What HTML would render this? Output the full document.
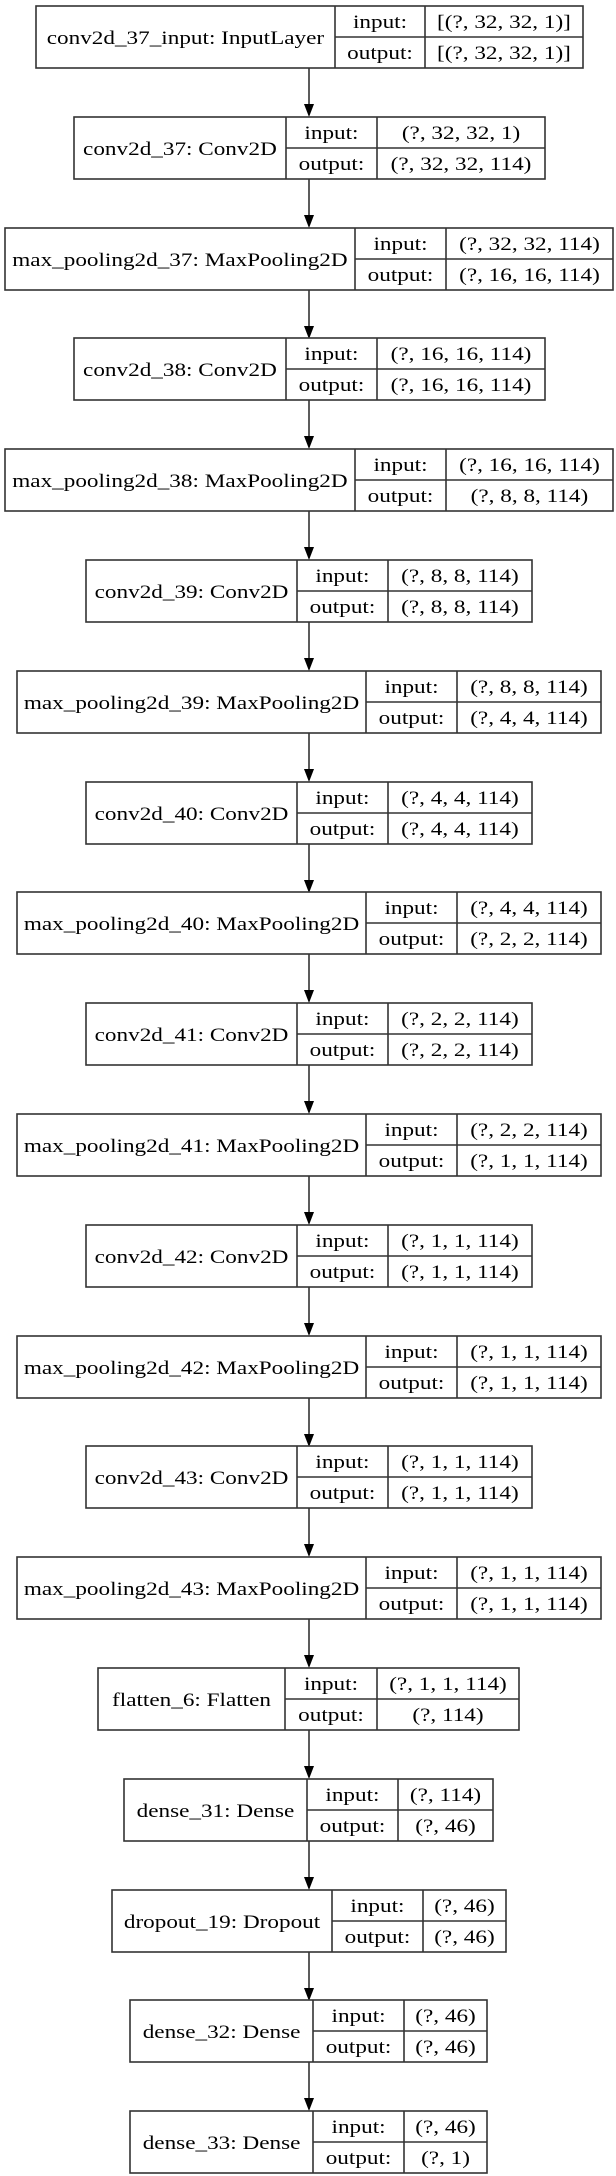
<!DOCTYPE html>
<html><head><meta charset="utf-8"><style>
html,body{margin:0;padding:0;background:#fff;}
svg{display:block;}
text{font-family:"Liberation Serif",serif;font-size:19px;fill:#000;}
.b{fill:#fff;stroke:#333;stroke-width:1.6;}
.l{stroke:#333;stroke-width:1.6;}
</style></head><body>
<svg width="616" height="2176" viewBox="0 0 616 2176" xmlns="http://www.w3.org/2000/svg">
<defs>
<g id="arr"><line class="l" x1="309" y1="0" x2="309" y2="36"/><polygon points="304,36 314,36 309,49" fill="#000"/></g>
</defs>
<!-- arrows: from box bottom (t+62) to next top -->
<use href="#arr" y="68"/><use href="#arr" y="179"/><use href="#arr" y="290"/><use href="#arr" y="400"/>
<use href="#arr" y="511"/><use href="#arr" y="622"/><use href="#arr" y="733"/><use href="#arr" y="844"/>
<use href="#arr" y="954"/><use href="#arr" y="1065"/><use href="#arr" y="1176"/><use href="#arr" y="1287"/>
<use href="#arr" y="1398"/><use href="#arr" y="1508"/><use href="#arr" y="1619"/><use href="#arr" y="1730"/>
<use href="#arr" y="1841"/><use href="#arr" y="1952"/><use href="#arr" y="2062"/>

<g transform="translate(0,6)"><rect class="b" x="36" y="0" width="547" height="62"/><line class="l" x1="335" y1="0" x2="335" y2="62"/><line class="l" x1="425" y1="0" x2="425" y2="62"/><line class="l" x1="335" y1="31" x2="583" y2="31"/>
<g transform="scale(1.22,1)" text-anchor="middle"><text x="152" y="38">conv2d_37_input: InputLayer</text><text x="311.5" y="22">input:</text><text x="311.5" y="53">output:</text><text x="413.1" y="22">[(?, 32, 32, 1)]</text><text x="413.1" y="53">[(?, 32, 32, 1)]</text></g></g>

<g transform="translate(0,117)"><rect class="b" x="74" y="0" width="471" height="62"/><line class="l" x1="286" y1="0" x2="286" y2="62"/><line class="l" x1="377" y1="0" x2="377" y2="62"/><line class="l" x1="286" y1="31" x2="545" y2="31"/>
<g transform="scale(1.22,1)" text-anchor="middle"><text x="147.5" y="38">conv2d_37: Conv2D</text><text x="271.7" y="22">input:</text><text x="271.7" y="53">output:</text><text x="377.9" y="22">(?, 32, 32, 1)</text><text x="377.9" y="53">(?, 32, 32, 114)</text></g></g>

<g transform="translate(0,228)"><rect class="b" x="5" y="0" width="608" height="62"/><line class="l" x1="355" y1="0" x2="355" y2="62"/><line class="l" x1="446" y1="0" x2="446" y2="62"/><line class="l" x1="355" y1="31" x2="613" y2="31"/>
<g transform="scale(1.22,1)" text-anchor="middle"><text x="147.5" y="38">max_pooling2d_37: MaxPooling2D</text><text x="328.3" y="22">input:</text><text x="328.3" y="53">output:</text><text x="434" y="22">(?, 32, 32, 114)</text><text x="434" y="53">(?, 16, 16, 114)</text></g></g>

<g transform="translate(0,338)"><rect class="b" x="74" y="0" width="471" height="62"/><line class="l" x1="286" y1="0" x2="286" y2="62"/><line class="l" x1="377" y1="0" x2="377" y2="62"/><line class="l" x1="286" y1="31" x2="545" y2="31"/>
<g transform="scale(1.22,1)" text-anchor="middle"><text x="147.5" y="38">conv2d_38: Conv2D</text><text x="271.7" y="22">input:</text><text x="271.7" y="53">output:</text><text x="377.9" y="22">(?, 16, 16, 114)</text><text x="377.9" y="53">(?, 16, 16, 114)</text></g></g>

<g transform="translate(0,449)"><rect class="b" x="5" y="0" width="608" height="62"/><line class="l" x1="355" y1="0" x2="355" y2="62"/><line class="l" x1="446" y1="0" x2="446" y2="62"/><line class="l" x1="355" y1="31" x2="613" y2="31"/>
<g transform="scale(1.22,1)" text-anchor="middle"><text x="147.5" y="38">max_pooling2d_38: MaxPooling2D</text><text x="328.3" y="22">input:</text><text x="328.3" y="53">output:</text><text x="434" y="22">(?, 16, 16, 114)</text><text x="434" y="53">(?, 8, 8, 114)</text></g></g>

<g transform="translate(0,560)"><rect class="b" x="86" y="0" width="446" height="62"/><line class="l" x1="297" y1="0" x2="297" y2="62"/><line class="l" x1="388" y1="0" x2="388" y2="62"/><line class="l" x1="297" y1="31" x2="532" y2="31"/>
<g transform="scale(1.22,1)" text-anchor="middle"><text x="157" y="38">conv2d_39: Conv2D</text><text x="280.7" y="22">input:</text><text x="280.7" y="53">output:</text><text x="377" y="22">(?, 8, 8, 114)</text><text x="377" y="53">(?, 8, 8, 114)</text></g></g>

<g transform="translate(0,671)"><rect class="b" x="17" y="0" width="584" height="62"/><line class="l" x1="366" y1="0" x2="366" y2="62"/><line class="l" x1="457" y1="0" x2="457" y2="62"/><line class="l" x1="366" y1="31" x2="601" y2="31"/>
<g transform="scale(1.22,1)" text-anchor="middle"><text x="157" y="38">max_pooling2d_39: MaxPooling2D</text><text x="337.3" y="22">input:</text><text x="337.3" y="53">output:</text><text x="433.6" y="22">(?, 8, 8, 114)</text><text x="433.6" y="53">(?, 4, 4, 114)</text></g></g>

<g transform="translate(0,782)"><rect class="b" x="86" y="0" width="446" height="62"/><line class="l" x1="297" y1="0" x2="297" y2="62"/><line class="l" x1="388" y1="0" x2="388" y2="62"/><line class="l" x1="297" y1="31" x2="532" y2="31"/>
<g transform="scale(1.22,1)" text-anchor="middle"><text x="157" y="38">conv2d_40: Conv2D</text><text x="280.7" y="22">input:</text><text x="280.7" y="53">output:</text><text x="377" y="22">(?, 4, 4, 114)</text><text x="377" y="53">(?, 4, 4, 114)</text></g></g>

<g transform="translate(0,892)"><rect class="b" x="17" y="0" width="584" height="62"/><line class="l" x1="366" y1="0" x2="366" y2="62"/><line class="l" x1="457" y1="0" x2="457" y2="62"/><line class="l" x1="366" y1="31" x2="601" y2="31"/>
<g transform="scale(1.22,1)" text-anchor="middle"><text x="157" y="38">max_pooling2d_40: MaxPooling2D</text><text x="337.3" y="22">input:</text><text x="337.3" y="53">output:</text><text x="433.6" y="22">(?, 4, 4, 114)</text><text x="433.6" y="53">(?, 2, 2, 114)</text></g></g>

<g transform="translate(0,1003)"><rect class="b" x="86" y="0" width="446" height="62"/><line class="l" x1="297" y1="0" x2="297" y2="62"/><line class="l" x1="388" y1="0" x2="388" y2="62"/><line class="l" x1="297" y1="31" x2="532" y2="31"/>
<g transform="scale(1.22,1)" text-anchor="middle"><text x="157" y="38">conv2d_41: Conv2D</text><text x="280.7" y="22">input:</text><text x="280.7" y="53">output:</text><text x="377" y="22">(?, 2, 2, 114)</text><text x="377" y="53">(?, 2, 2, 114)</text></g></g>

<g transform="translate(0,1114)"><rect class="b" x="17" y="0" width="584" height="62"/><line class="l" x1="366" y1="0" x2="366" y2="62"/><line class="l" x1="457" y1="0" x2="457" y2="62"/><line class="l" x1="366" y1="31" x2="601" y2="31"/>
<g transform="scale(1.22,1)" text-anchor="middle"><text x="157" y="38">max_pooling2d_41: MaxPooling2D</text><text x="337.3" y="22">input:</text><text x="337.3" y="53">output:</text><text x="433.6" y="22">(?, 2, 2, 114)</text><text x="433.6" y="53">(?, 1, 1, 114)</text></g></g>

<g transform="translate(0,1225)"><rect class="b" x="86" y="0" width="446" height="62"/><line class="l" x1="297" y1="0" x2="297" y2="62"/><line class="l" x1="388" y1="0" x2="388" y2="62"/><line class="l" x1="297" y1="31" x2="532" y2="31"/>
<g transform="scale(1.22,1)" text-anchor="middle"><text x="157" y="38">conv2d_42: Conv2D</text><text x="280.7" y="22">input:</text><text x="280.7" y="53">output:</text><text x="377" y="22">(?, 1, 1, 114)</text><text x="377" y="53">(?, 1, 1, 114)</text></g></g>

<g transform="translate(0,1336)"><rect class="b" x="17" y="0" width="584" height="62"/><line class="l" x1="366" y1="0" x2="366" y2="62"/><line class="l" x1="457" y1="0" x2="457" y2="62"/><line class="l" x1="366" y1="31" x2="601" y2="31"/>
<g transform="scale(1.22,1)" text-anchor="middle"><text x="157" y="38">max_pooling2d_42: MaxPooling2D</text><text x="337.3" y="22">input:</text><text x="337.3" y="53">output:</text><text x="433.6" y="22">(?, 1, 1, 114)</text><text x="433.6" y="53">(?, 1, 1, 114)</text></g></g>

<g transform="translate(0,1446)"><rect class="b" x="86" y="0" width="446" height="62"/><line class="l" x1="297" y1="0" x2="297" y2="62"/><line class="l" x1="388" y1="0" x2="388" y2="62"/><line class="l" x1="297" y1="31" x2="532" y2="31"/>
<g transform="scale(1.22,1)" text-anchor="middle"><text x="157" y="38">conv2d_43: Conv2D</text><text x="280.7" y="22">input:</text><text x="280.7" y="53">output:</text><text x="377" y="22">(?, 1, 1, 114)</text><text x="377" y="53">(?, 1, 1, 114)</text></g></g>

<g transform="translate(0,1557)"><rect class="b" x="17" y="0" width="584" height="62"/><line class="l" x1="366" y1="0" x2="366" y2="62"/><line class="l" x1="457" y1="0" x2="457" y2="62"/><line class="l" x1="366" y1="31" x2="601" y2="31"/>
<g transform="scale(1.22,1)" text-anchor="middle"><text x="157" y="38">max_pooling2d_43: MaxPooling2D</text><text x="337.3" y="22">input:</text><text x="337.3" y="53">output:</text><text x="433.6" y="22">(?, 1, 1, 114)</text><text x="433.6" y="53">(?, 1, 1, 114)</text></g></g>

<g transform="translate(0,1668)"><rect class="b" x="98" y="0" width="421" height="62"/><line class="l" x1="285" y1="0" x2="285" y2="62"/><line class="l" x1="377" y1="0" x2="377" y2="62"/><line class="l" x1="285" y1="31" x2="519" y2="31"/>
<g transform="scale(1.22,1)" text-anchor="middle"><text x="157" y="38">flatten_6: Flatten</text><text x="271.3" y="22">input:</text><text x="271.3" y="53">output:</text><text x="367.2" y="22">(?, 1, 1, 114)</text><text x="367.2" y="53">(?, 114)</text></g></g>

<g transform="translate(0,1779)"><rect class="b" x="124" y="0" width="369" height="62"/><line class="l" x1="307" y1="0" x2="307" y2="62"/><line class="l" x1="398" y1="0" x2="398" y2="62"/><line class="l" x1="307" y1="31" x2="493" y2="31"/>
<g transform="scale(1.22,1)" text-anchor="middle"><text x="176.6" y="38">dense_31: Dense</text><text x="288.9" y="22">input:</text><text x="288.9" y="53">output:</text><text x="365.2" y="22">(?, 114)</text><text x="365.2" y="53">(?, 46)</text></g></g>

<g transform="translate(0,1890)"><rect class="b" x="112" y="0" width="394" height="62"/><line class="l" x1="332" y1="0" x2="332" y2="62"/><line class="l" x1="423" y1="0" x2="423" y2="62"/><line class="l" x1="332" y1="31" x2="506" y2="31"/>
<g transform="scale(1.22,1)" text-anchor="middle"><text x="182" y="38">dropout_19: Dropout</text><text x="309.4" y="22">input:</text><text x="309.4" y="53">output:</text><text x="380.7" y="22">(?, 46)</text><text x="380.7" y="53">(?, 46)</text></g></g>

<g transform="translate(0,2000)"><rect class="b" x="130" y="0" width="357" height="62"/><line class="l" x1="313" y1="0" x2="313" y2="62"/><line class="l" x1="404" y1="0" x2="404" y2="62"/><line class="l" x1="313" y1="31" x2="487" y2="31"/>
<g transform="scale(1.22,1)" text-anchor="middle"><text x="181.6" y="38">dense_32: Dense</text><text x="293.9" y="22">input:</text><text x="293.9" y="53">output:</text><text x="365.2" y="22">(?, 46)</text><text x="365.2" y="53">(?, 46)</text></g></g>

<g transform="translate(0,2111)"><rect class="b" x="130" y="0" width="357" height="62"/><line class="l" x1="313" y1="0" x2="313" y2="62"/><line class="l" x1="404" y1="0" x2="404" y2="62"/><line class="l" x1="313" y1="31" x2="487" y2="31"/>
<g transform="scale(1.22,1)" text-anchor="middle"><text x="181.6" y="38">dense_33: Dense</text><text x="293.9" y="22">input:</text><text x="293.9" y="53">output:</text><text x="365.2" y="22">(?, 46)</text><text x="365.2" y="53">(?, 1)</text></g></g>
</svg>
</body></html>
